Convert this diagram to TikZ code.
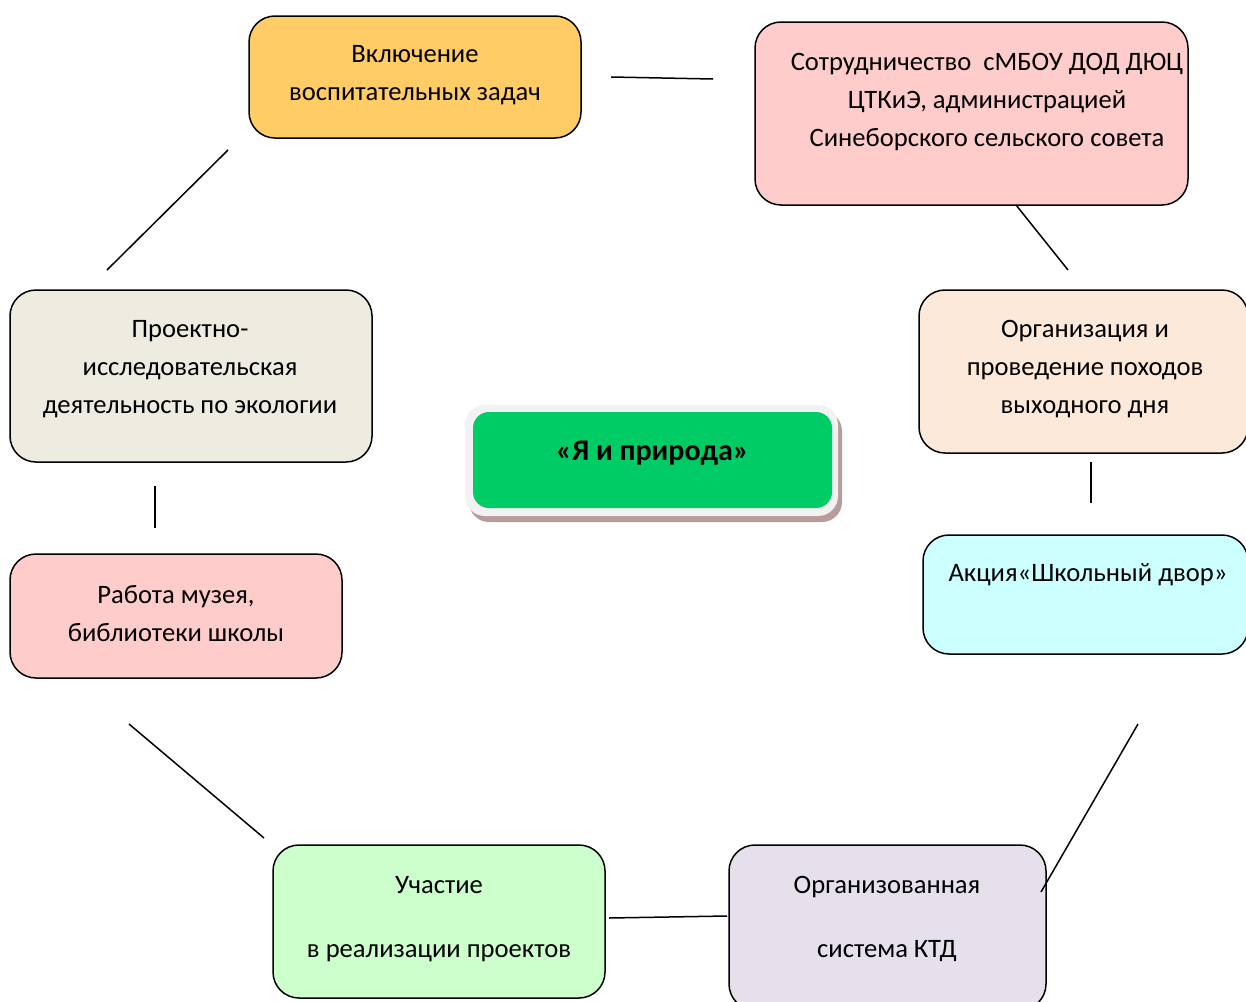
\documentclass[tikz,border=0pt]{standalone}
\usepackage{fontspec}
\setmainfont{Carlito}
\usetikzlibrary{shadows}
\definecolor{orangebox}{HTML}{FFCC66}
\definecolor{pinkbox}{HTML}{FFCCCC}
\definecolor{peachbox}{HTML}{FDE9D9}
\definecolor{cyanbox}{HTML}{CCFFFF}
\definecolor{lilacbox}{HTML}{E5E0EC}
\definecolor{mintbox}{HTML}{CCFFCC}
\definecolor{sandbox}{HTML}{EEECE1}
\definecolor{corefill}{HTML}{00CC66}
\definecolor{coreframe}{HTML}{F2F2F2}
\definecolor{coreshadow}{HTML}{B89C9C}
\begin{document}
\begin{tikzpicture}[x=0.5pt, y=-0.5pt]

    \tikzset{%
    every box/.style={
        draw=black,
        line width=0.75pt,
        rounded corners=13pt,
        inner sep=0pt
        },
    box text/.style={
        align=center,
        font=\fontsize{13.3}{19}\selectfont
        },
    link/.style={
        draw=black,
        line width=0.75pt
        },
    }

    \useasboundingbox (0,0) rectangle (1246,1001);

    % Outer boxes
    \node [every box, fill=orangebox, minimum width=166pt, minimum height=61pt] (incl) at (415,77) {};
    \node [every box, fill=pinkbox, minimum width=216.5pt, minimum height=91.5pt] (coop) at (971.5,113.5) {};
    \node [every box, fill=peachbox, minimum width=164.5pt, minimum height=81.5pt] (hike) at (1083.5,371.5) {};
    \node [every box, fill=cyanbox, minimum width=162.5pt, minimum height=59.5pt] (action) at (1085.5,594.5) {};
    \node [every box, fill=lilacbox, minimum width=158.5pt, minimum height=82.5pt] (ktd) at (887.5,927.5) {};
    \node [every box, fill=mintbox, minimum width=166pt, minimum height=76.5pt] (part) at (439,921.5) {};
    \node [every box, fill=pinkbox, minimum width=166pt, minimum height=62pt] (museum) at (176,616) {};
    \node [every box, fill=sandbox, minimum width=181pt, minimum height=86pt] (project) at (191,376) {};

    % Box texts
    \node [box text] (incl-t) at (415,75) {Включение\\воспитательных задач};
    \node [box text] (coop-t) at (987,102.5) {Сотрудничество\ \ сМБОУ ДОД ДЮЦ\\ЦТКиЭ, администрацией\\Синеборского сельского совета};
    \node [box text] (hike-t) at (1085,369.5) {Организация и\\проведение походов\\выходного дня};
    \node [box text] (action-t) at (1088,575) {Акция«Школьный двор»};
    \node [box text] (ktd-t) at (887,919) {Организованная\\[13pt]система КТД};
    \node [box text] (part-t) at (439,919) {Участие\\[13pt]в реализации проектов};
    \node [box text] (museum-t) at (176,613.5) {Работа музея,\\библиотеки школы};
    \node [box text] (project-t) at (190,369.5) {Проектно-\\исследовательская\\деятельность по экологии};

    % Central theme
    \node [fill=coreframe, rounded corners=10pt, minimum width=186.5pt, minimum height=55.5pt,
        drop shadow={shadow xshift=2pt, shadow yshift=-3pt, fill=coreshadow, opacity=1}] (core-frame) at (651.5,460.5) {};
    \node [fill=corefill, rounded corners=8pt, minimum width=179.5pt, minimum height=48pt] (core) at (652.5,460) {};
    \node [box text, font=\fontsize{15}{19}\selectfont\bfseries] (core-t) at (652.5,453) {«Я и природа»};

    % Connectors between the boxes
    \foreach \ax/\ay/\bx/\by [count=\i] in {611/77/713/79, 1016/205/1068/270, 1091/462/1091/503,
        1138/724/1041/892, 609/918/727/916, 264/838/129/724, 155/486/155/528, 107/270/228/150}
    {
    \coordinate (link-\i-a) at (\ax,\ay);
    \coordinate (link-\i-b) at (\bx,\by);
    \draw [link] (link-\i-a) -- (link-\i-b);
    }

\end{tikzpicture}
\end{document}
